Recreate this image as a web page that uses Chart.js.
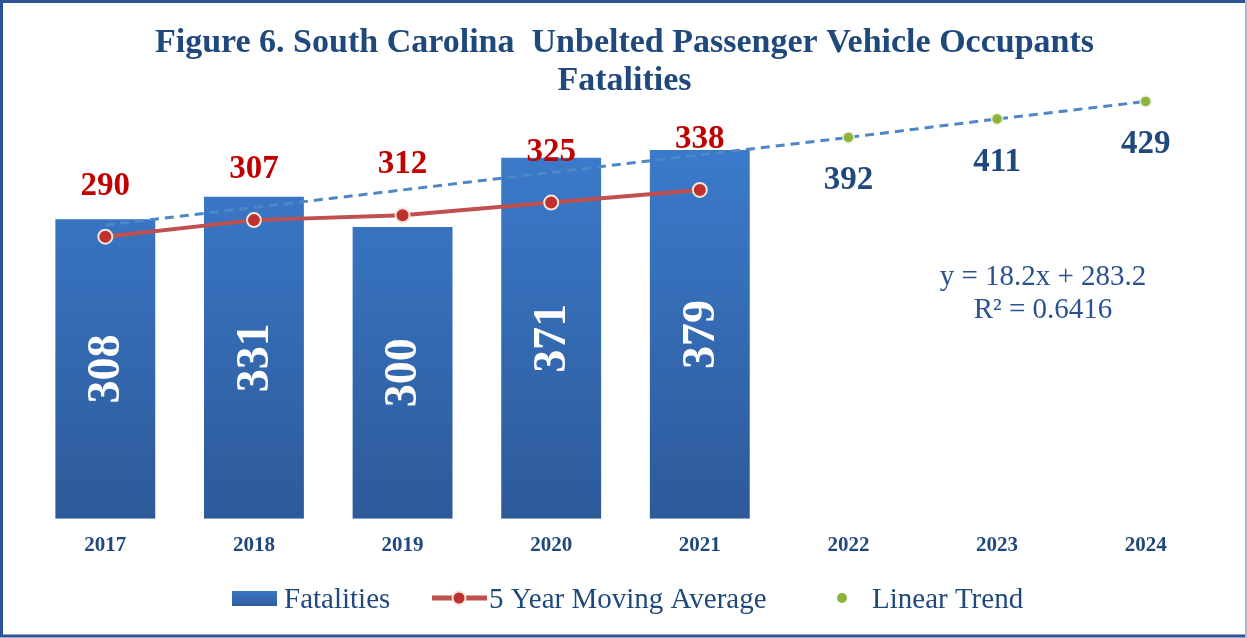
<!DOCTYPE html>
<html>
<head>
<meta charset="utf-8">
<script src="https://cdn.jsdelivr.net/npm/chart.js@4/dist/chart.umd.min.js"></script>
<style>
html,body{margin:0;padding:0;background:#fff;}
canvas{display:block;}
</style>
</head>
<body>
<canvas id="c" width="1247" height="638"></canvas>
<script>
// ---- data ----
const titleLines = ['Figure 6. South Carolina  Unbelted Passenger Vehicle Occupants', 'Fatalities'];
const years = ['2017', '2018', '2019', '2020', '2021', '2022', '2023', '2024'];
const fatalities = [308, 331, 300, 371, 379, null, null, null];
const movingAverage = [290, 307, 312, 325, 338, null, null, null];
const linearTrend = [302, 320, 338, 356, 374, 392, 411, 429];
const trendLabelFrom = 5;
const equationLines = ['y = 18.2x + 283.2', 'R\u00B2 = 0.6416'];
const legendNames = ['Fatalities', '5 Year Moving Average', 'Linear Trend'];

const NAVY = '#1F497D';
const SERIF = '"Liberation Serif", "Times New Roman", serif';

const labelPlugin = {
  id: 'labels',
  afterDatasetsDraw(chart) {
    const ctx = chart.ctx;
    ctx.save();
    // bar values, rotated, white
    const barMeta = chart.getDatasetMeta(0);
    barMeta.data.forEach((el, i) => {
      if (fatalities[i] == null) return;
      const cy = (el.y + el.base) / 2;
      ctx.save();
      ctx.translate(el.x, cy);
      ctx.rotate(-Math.PI / 2);
      ctx.fillStyle = '#FFFFFF';
      ctx.font = 'bold 46px ' + SERIF;
      ctx.textAlign = 'center';
      ctx.textBaseline = 'middle';
      ctx.fillText(String(fatalities[i]), 0, 2);
      ctx.restore();
    });
    // moving average labels
    const maMeta = chart.getDatasetMeta(2);
    ctx.font = 'bold 33px ' + SERIF;
    ctx.fillStyle = '#C00000';
    ctx.textAlign = 'center';
    ctx.textBaseline = 'alphabetic';
    maMeta.data.forEach((el, i) => {
      if (movingAverage[i] == null) return;
      ctx.fillText(String(movingAverage[i]), el.x, el.y - 42);
    });
    // trend labels
    const trMeta = chart.getDatasetMeta(1);
    ctx.font = 'bold 33px ' + SERIF;
    ctx.fillStyle = NAVY;
    trMeta.data.forEach((el, i) => {
      if (i < trendLabelFrom) return;
      ctx.fillText(String(linearTrend[i]), el.x, el.y + 52);
    });
    ctx.restore();
  },
  afterDraw(chart) {
    const ctx = chart.ctx;
    const W = chart.width, H = chart.height;
    ctx.save();
    // title
    ctx.fillStyle = NAVY;
    ctx.font = 'bold 34px ' + SERIF;
    ctx.textAlign = 'center';
    ctx.textBaseline = 'alphabetic';
    ctx.fillText(titleLines[0], W / 2 + 1, 52);
    ctx.fillText(titleLines[1], W / 2 + 1, 90);
    // equation
    ctx.font = '29px ' + SERIF;
    ctx.fillStyle = '#2A5290';
    ctx.fillText(equationLines[0], 1043, 285);
    ctx.fillText(equationLines[1], 1043, 318);
    // legend
    ctx.textAlign = 'left';
    ctx.font = '29px ' + SERIF;
    const ly = 598;
    const g = ctx.createLinearGradient(0, ly - 8, 0, ly + 8);
    g.addColorStop(0, '#3A78C8');
    g.addColorStop(1, '#2E5C9B');
    ctx.fillStyle = g;
    ctx.fillRect(232, ly - 7, 45, 15);
    ctx.fillStyle = NAVY;
    ctx.fillText(legendNames[0], 284, ly + 10);
    ctx.strokeStyle = '#C0504D';
    ctx.lineWidth = 5;
    ctx.beginPath();
    ctx.moveTo(432, ly);
    ctx.lineTo(487, ly);
    ctx.stroke();
    ctx.beginPath();
    ctx.arc(459, ly, 6.5, 0, Math.PI * 2);
    ctx.fillStyle = '#C0302F';
    ctx.fill();
    ctx.lineWidth = 2;
    ctx.strokeStyle = '#F2E6DC';
    ctx.stroke();
    ctx.fillStyle = NAVY;
    ctx.fillText(legendNames[1], 489, ly + 10);
    ctx.beginPath();
    ctx.arc(842, ly, 5, 0, Math.PI * 2);
    ctx.fillStyle = '#8CB43C';
    ctx.fill();
    ctx.fillStyle = NAVY;
    ctx.fillText(legendNames[2], 872, ly + 10);
    // border
    ctx.strokeStyle = '#2B5592';
    ctx.lineWidth = 3;
    ctx.beginPath();
    ctx.moveTo(W - 2, 1.5);
    ctx.lineTo(1.5, 1.5);
    ctx.lineTo(1.5, H - 2);
    ctx.lineTo(W - 2, H - 2);
    ctx.stroke();
    ctx.strokeStyle = '#A9BCDD';
    ctx.lineWidth = 2;
    ctx.beginPath();
    ctx.moveTo(W - 1, 0);
    ctx.lineTo(W - 1, H);
    ctx.stroke();
    ctx.restore();
  }
};

function barGradient(context) {
  const chart = context.chart;
  const area = chart.chartArea;
  if (!area) return '#3A78C8';
  const g = chart.ctx.createLinearGradient(0, 150, 0, area.bottom);
  g.addColorStop(0, '#3B7ACB');
  g.addColorStop(1, '#2D5A99');
  return g;
}

new Chart(document.getElementById('c'), {
  type: 'bar',
  data: {
    labels: years,
    datasets: [
      {
        type: 'bar',
        label: legendNames[0],
        data: fatalities,
        backgroundColor: barGradient,
        borderWidth: 0,
        barPercentage: 0.672,
        categoryPercentage: 1.0,
        order: 3
      },
      {
        type: 'line',
        label: legendNames[2],
        data: linearTrend,
        borderColor: '#4F86C6',
        borderWidth: 3,
        borderDash: [9, 6],
        fill: false,
        tension: 0,
        pointRadius: linearTrend.map((v, i) => i >= trendLabelFrom ? 5.5 : 0),
        pointBackgroundColor: '#8CB43C',
        pointBorderColor: '#E9EEDD',
        pointBorderWidth: 1.5,
        order: 2
      },
      {
        type: 'line',
        label: legendNames[1],
        data: movingAverage,
        borderColor: '#C0504D',
        borderWidth: 4,
        fill: false,
        tension: 0,
        pointRadius: 7,
        pointBackgroundColor: '#C0302F',
        pointBorderColor: '#F2E6DC',
        pointBorderWidth: 2,
        order: 1
      }
    ]
  },
  options: {
    responsive: false,
    devicePixelRatio: 1,
    animation: false,
    events: [],
    layout: { padding: { left: 31, right: 27, top: 81, bottom: 66 } },
    plugins: {
      legend: { display: false },
      title: { display: false },
      tooltip: { enabled: false }
    },
    scales: {
      x: {
        offset: true,
        grid: { display: false, drawTicks: false },
        border: { display: false },
        ticks: {
          padding: 14,
          color: NAVY,
          font: { family: SERIF, size: 21, weight: 'bold' }
        }
      },
      y: {
        display: false,
        min: 0,
        max: 450
      }
    }
  },
  plugins: [labelPlugin]
});
</script>
</body>
</html>
